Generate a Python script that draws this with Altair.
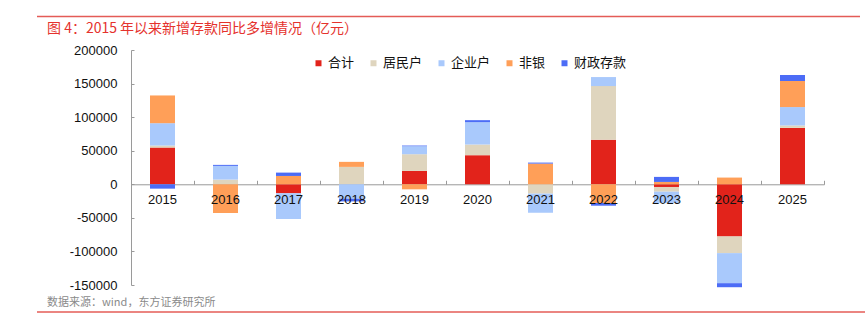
import altair as alt
import pandas as pd

years = ["2015", "2016", "2017", "2018", "2019", "2020", "2021", "2022", "2023", "2024", "2025"]
series = ["合计", "居民户", "企业户", "非银", "财政存款"]
colors = ["#E2231B", "#DFD5BE", "#A9C9FC", "#FF9F58", "#4C6CF6"]

heji = [54700, 0, -13400, 0, 19900, 43300, 0, 66200, -4000, -77600, 84000]
jumin = [3000, 7000, 0, 25900, 24900, 15900, -13900, 80100, -7000, -24900, 3600]
qiye = [33300, 20400, -38300, -21500, 11900, 33300, -28500, 13400, -17000, -44800, 27400]
feiyin = [41300, -42800, 12400, 7500, -7500, 0, 30800, -27900, 3500, 10000, 38800]
caizheng = [-6500, 1500, 5000, -4000, 1000, 3000, 1500, -4000, 7500, -6000, 9000]

y_ticks = [-150000, -100000, -50000, 0, 50000, 100000, 150000, 200000]
title_text = "图 4：2015 年以来新增存款同比多增情况（亿元）"
source_text = "数据来源：wind，东方证券研究所"

rows = []
for k, (name, vals) in enumerate(zip(series, [heji, jumin, qiye, feiyin, caizheng])):
    for yr, v in zip(years, vals):
        rows.append({"year": yr, "series": name, "value": v, "order": k})
df = pd.DataFrame(rows)

W, H = 693, 235
zero_from_top = H * 200000 / 350000
NUM_FONT = "Liberation Sans"
CJK_FONT = "Noto Sans CJK SC"

xscale = alt.Scale(domain=years, paddingInner=0, paddingOuter=0)
yscale = alt.Scale(domain=[-150000, 200000], nice=False, zero=False)

bars = alt.Chart(df).mark_bar(size=25).encode(
    x=alt.X("year:N", scale=xscale, sort=years, axis=alt.Axis(
        orient="bottom", offset=-(H - zero_from_top), domain=False, ticks=False, tickSize=0,
        labelPadding=9, labelAngle=0, labelFontSize=13, labelFont=NUM_FONT,
        labelColor="#111111", zindex=1, title=None, grid=False)),
    y=alt.Y("value:Q", stack="zero", scale=yscale, axis=alt.Axis(
        orient="left", values=y_ticks, labelExpr="toString(datum.value)", tickSize=0,
        ticks=False, labelPadding=14,
        domainColor="#9a9a9a", labelFontSize=13, labelFont=NUM_FONT, labelColor="#111111",
        grid=False, title=None)),
    color=alt.Color("series:N", scale=alt.Scale(domain=series, range=colors), legend=alt.Legend(
        orient="none", legendX=181, legendY=6.5, direction="horizontal", title=None,
        symbolType="square", symbolSize=36, symbolStrokeWidth=0, labelFontSize=13,
        labelFont=CJK_FONT, labelColor="#111111", columnPadding=12, labelOffset=3, padding=0)),
    order=alt.Order("order:Q", sort="ascending"),
)

ticks_layer = alt.Chart(df).mark_bar(size=25, opacity=0).encode(
    x=alt.X("year:N", scale=xscale, sort=years, axis=alt.Axis(
        orient="top", offset=-zero_from_top, labels=False, ticks=True, tickSize=4,
        tickBand="extent", domain=True, domainColor="#9a9a9a", tickColor="#9a9a9a",
        title=None, grid=False, zindex=0)),
    y=alt.Y("value:Q", stack="zero", scale=yscale, axis=alt.Axis(
        orient="right", offset=-W, labels=False, domain=False, ticks=True, tickSize=3,
        tickColor="#9a9a9a", values=y_ticks, title=None, grid=False)),
    detail="series:N",
    order=alt.Order("order:Q", sort="ascending"),
)

title_layer = alt.Chart(alt.Data(values=[{"t": title_text}])).mark_text(
    align="left", baseline="middle", fontSize=14, font=CJK_FONT, color="#E5322D"
).encode(x=alt.value(-84), y=alt.value(-21), text="t:N")

source_layer = alt.Chart(alt.Data(values=[{"t": source_text}])).mark_text(
    align="left", baseline="middle", fontSize=11, font=CJK_FONT, color="#8a8a8a"
).encode(x=alt.value(-84), y=alt.value(253), text="t:N")

line_data = alt.Data(values=[{"a": 1}])
top_line = alt.Chart(line_data).mark_rule(color="#E45C57", strokeWidth=1.5).encode(
    x=alt.value(-94), x2=alt.value(729), y=alt.value(-33.5))
bottom_line = alt.Chart(line_data).mark_rule(color="#E45C57", strokeWidth=1.5).encode(
    x=alt.value(-94), x2=alt.value(734), y=alt.value(262))

chart = alt.layer(ticks_layer, bars, title_layer, source_layer, top_line, bottom_line).resolve_axis(
    x="independent", y="independent"
).properties(
    width=W, height=H,
    autosize=alt.AutoSizeParams(type="none"),
    padding={"left": 131, "top": 50, "right": 42, "bottom": 40},
).configure_view(strokeWidth=0)

chart.save("out.html", embed_options={"renderer": "svg", "actions": False})
